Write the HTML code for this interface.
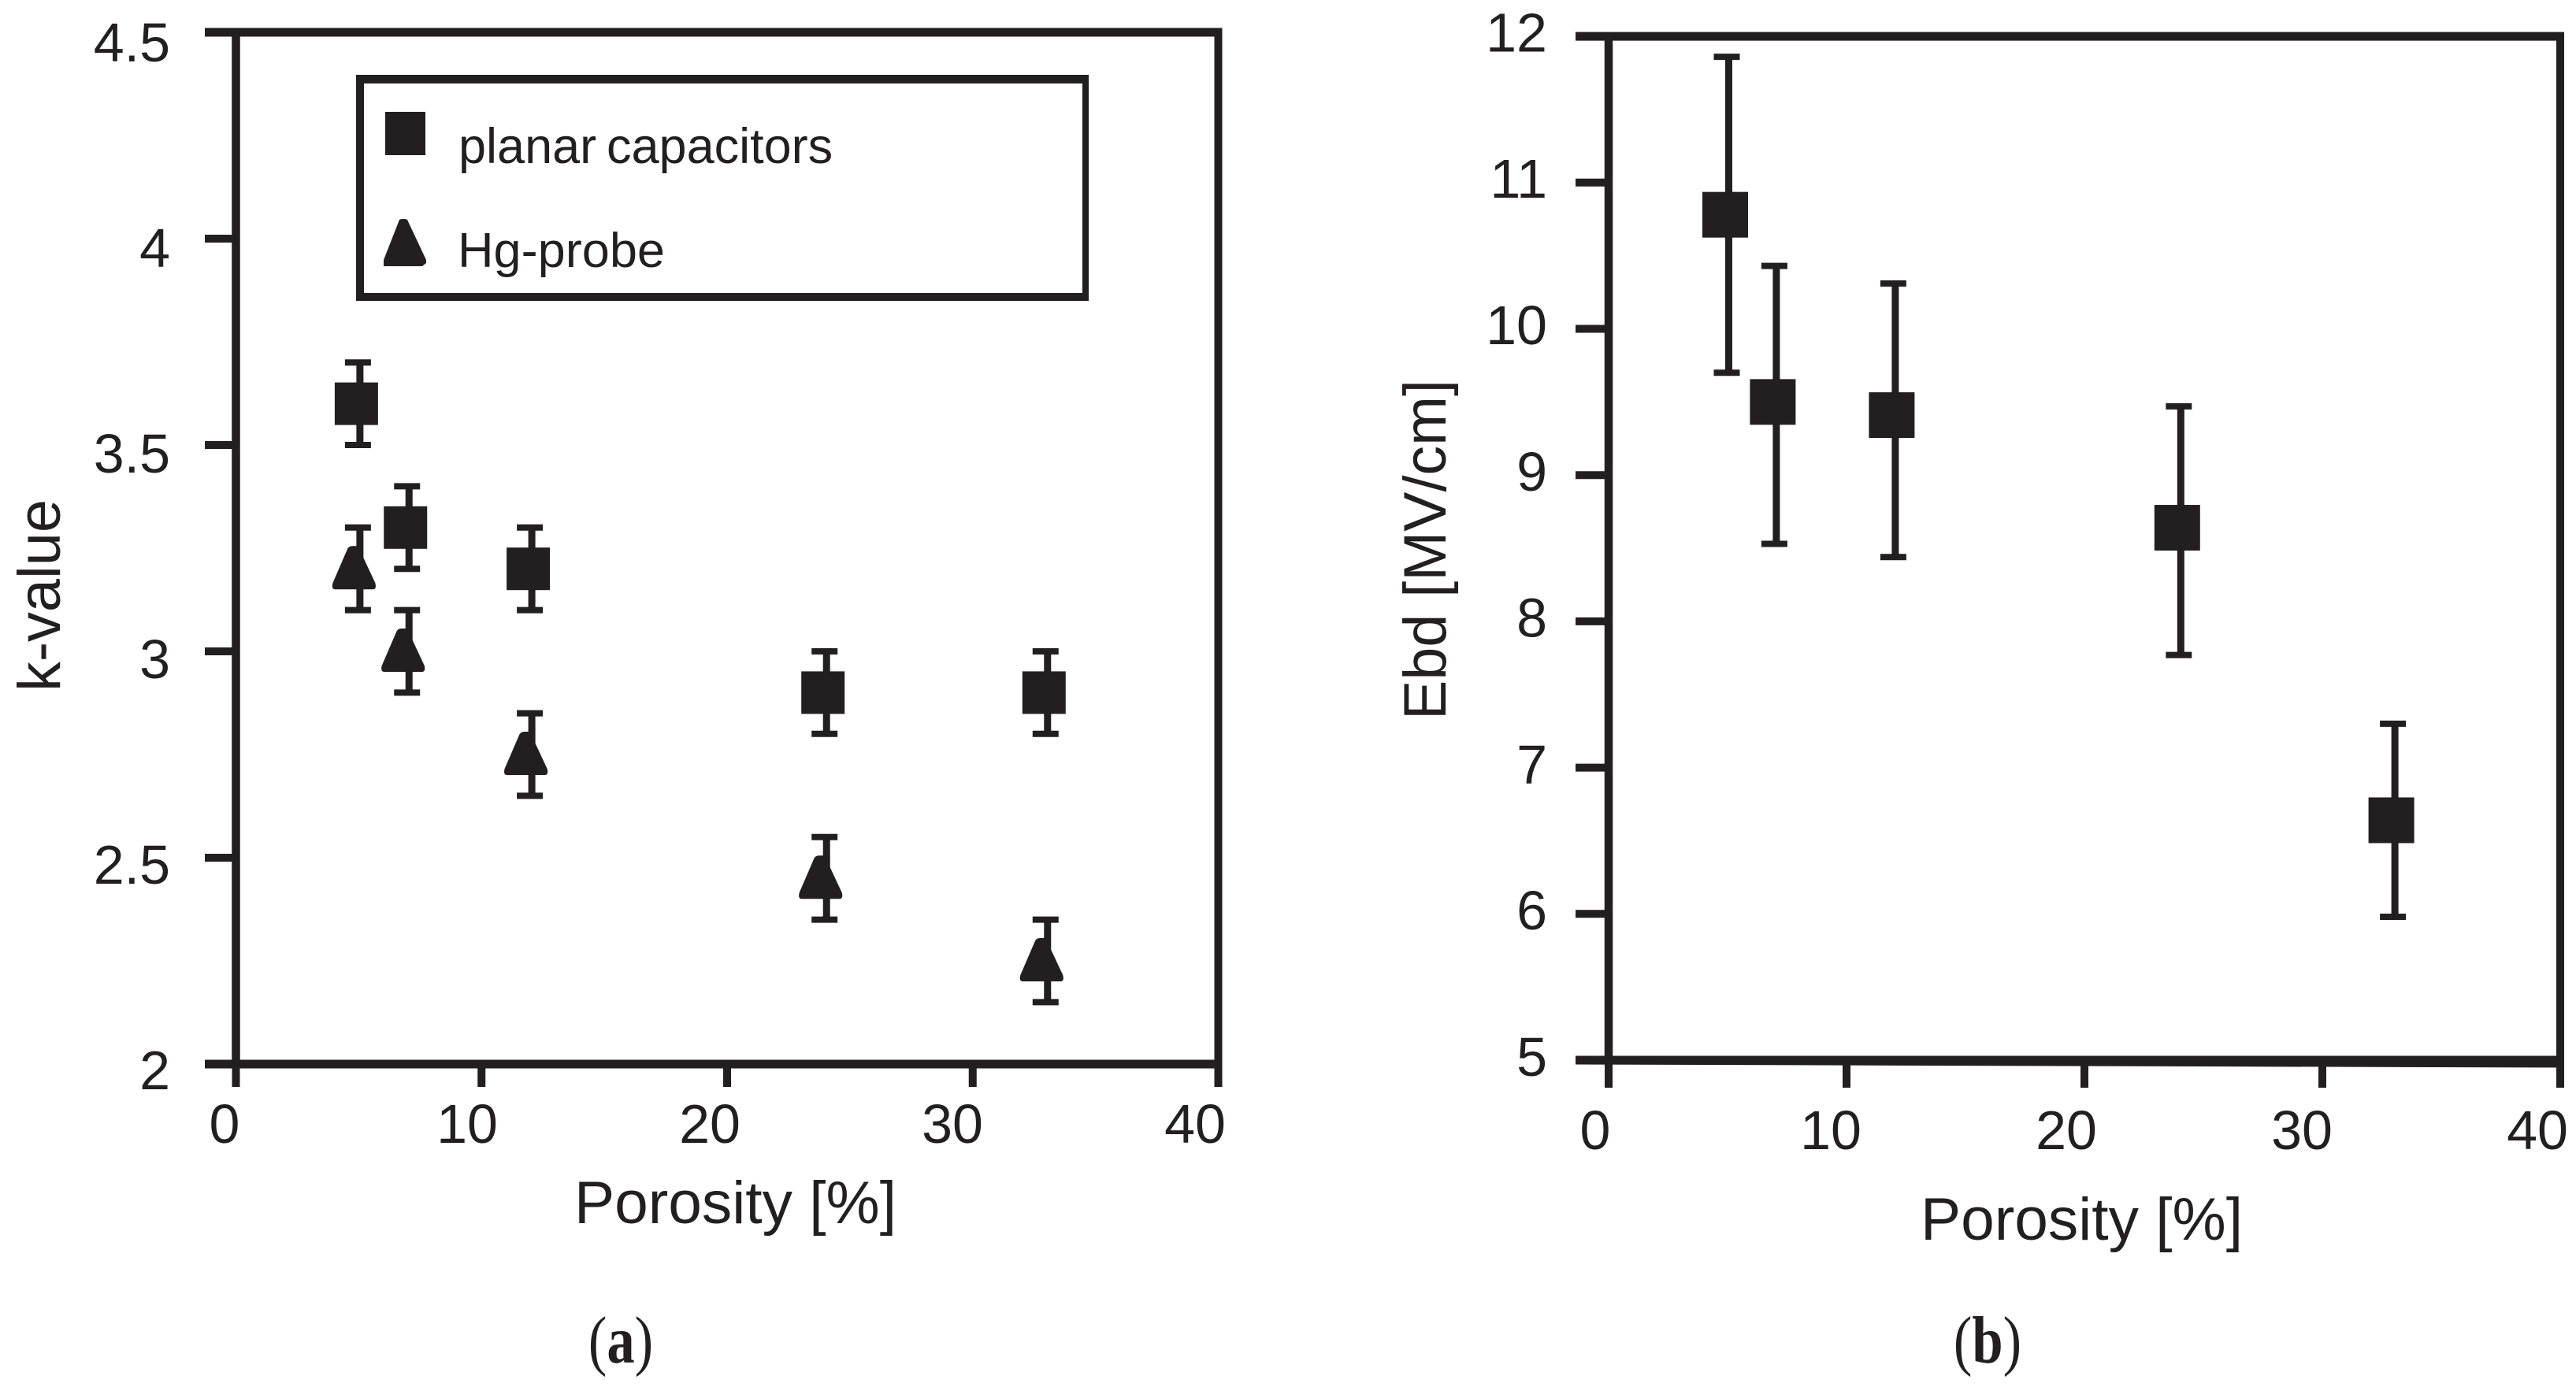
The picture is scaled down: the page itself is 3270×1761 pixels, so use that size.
<!DOCTYPE html>
<html lang="en">
<head>
<meta charset="utf-8">
<title>k-value and Ebd versus porosity</title>
<style>
html,body{margin:0;padding:0;background:#fff;}
body{width:3270px;height:1761px;overflow:hidden;}
svg{display:block;}
text{font-family:"Liberation Sans",Arial,sans-serif;fill:#231f20;}
.serif{font-family:"Liberation Serif","Times New Roman",serif;}
</style>
</head>
<body>
<svg id="figure" xmlns="http://www.w3.org/2000/svg" width="3270" height="1761" viewBox="0 0 3270 1761">
  <rect width="3270" height="1761" fill="#ffffff"/>
  <g id="panel-a"></g>
  <g id="panel-b"></g>

  <g>
    <line x1="452" y1="100.5" x2="1382" y2="100.5" stroke="#231f20" stroke-width="11"/>
    <line x1="452" y1="377" x2="1382" y2="377" stroke="#231f20" stroke-width="10"/>
    <line x1="457" y1="95" x2="457" y2="382" stroke="#231f20" stroke-width="10"/>
    <line x1="1378" y1="95" x2="1378" y2="382" stroke="#231f20" stroke-width="8"/>
    <rect x="489" y="142" width="51" height="55" fill="#231f20"/>
    <path d="M507 279 Q508 278 512 278 Q516 278 517 279 L541 330 L541 334 L536 338 L487 338 L487 330 Z" fill="#231f20"/>
    <text y="207" font-size="63"><tspan x="582">planar</tspan> <tspan x="770">capacitors</tspan></text>
    <text x="581" y="339" font-size="62" textLength="263" lengthAdjust="spacingAndGlyphs">Hg-probe</text>
  </g>

  <text class="serif" transform="translate(788 1730) scale(0.83 1)" font-size="85" text-anchor="middle">(<tspan font-weight="bold">a</tspan>)</text>
  <text class="serif" transform="translate(2523 1730) scale(0.83 1)" font-size="85" text-anchor="middle">(<tspan font-weight="bold">b</tspan>)</text>
</svg>

<script>
// Shared x-axis data
const porosity = [5, 7, 12, 24, 33];
const xTicks = [0, 10, 20, 30, 40];

// Panel (a) data
const kYTicks = [2, 2.5, 3, 3.5, 4, 4.5];
const kYTickLabels = ['2', '2.5', '3', '3.5', '4', '4.5'];
const planarK = [3.6, 3.3, 3.2, 2.9, 2.9];
const planarKErr = [0.1, 0.1, 0.1, 0.1, 0.1];
const hgK = [3.2, 3.0, 2.75, 2.45, 2.25];
const hgKErr = [0.1, 0.1, 0.1, 0.1, 0.1];

// Panel (b) data
const ebdYTicks = [5, 6, 7, 8, 9, 10, 11, 12];
const ebdYTickLabels = ['5', '6', '7', '8', '9', '10', '11', '12'];
const ebdValues = [10.78, 9.5, 9.41, 8.64, 6.64];
const ebdUpper = [11.86, 10.43, 10.31, 9.47, 7.3];
const ebdLower = [9.7, 8.53, 8.44, 7.77, 5.98];

const NS = 'http://www.w3.org/2000/svg';
const INK = '#231f20';

function make(parent, tag, attrs, txt) {
  const n = document.createElementNS(NS, tag);
  for (const k in attrs) n.setAttribute(k, attrs[k]);
  if (txt !== undefined) n.textContent = txt;
  parent.appendChild(n);
  return n;
}
function ln(parent, x1, y1, x2, y2, w) {
  return make(parent, 'line', {x1: x1, y1: y1, x2: x2, y2: y2, stroke: INK, 'stroke-width': w});
}

// Axis functions
const xA = v => 299.5 + 31.175 * v;
const yA = v => 1351 - (v - 2) * 524;
const xB = v => 2042 + 30.2 * v;
const yB = v => 1346 - (v - 5) * 185.7;

// Tick-label axis functions (the label grid sits slightly off the tick grid)
const xLabA = v => 285 + 30.8 * v;
const yLabA = v => 1383 - (v - 2) * 522;
const xLabB = v => 2025 + 29.9 * v;
const yLabB = v => 1366 - (v - 5) * 185.8;

function drawFrame(g, x, y, xt, yt, xMax, yMin, yMax, tickLeft, tickBottom, xLab, yLab, yLabels, yLabRight, xLabBase, rightDrop) {
  const frame = make(g, 'g', {});
  
  
  const top = ln(frame, tickLeft, y(yMax), x(xMax) + 5, y(yMax), 11);
  
  
  const y0 = y(yMin);
  const xEnd = x(xMax) + 5;
  const bottom = make(frame, 'polygon', {
    points: tickLeft + ',' + (y0 - 5.5) + ' ' + xEnd + ',' + (y0 - 5.5) + ' ' + xEnd + ',' + (y0 + 5.5 + rightDrop) + ' ' + tickLeft + ',' + (y0 + 5.5),
    fill: INK
  });
  
  
  const left = ln(frame, x(0), y(yMax), x(0), y(yMin), 10.5);
  
  
  const right = ln(frame, x(xMax), y(yMax), x(xMax), y(yMin), 10);
  
  

  xt.forEach(v => {
    const t = ln(frame, x(v), y(yMin), x(v), tickBottom, 10);
    
    
    const lbl = make(g, 'text', {
      x: xLab(v), y: xLabBase,
      'font-size': 70, 'text-anchor': 'middle'
    }, String(v));
    
    
  });
  yt.forEach((v, i) => {
    if (v !== yMin && v !== yMax) {
      const t = ln(frame, tickLeft, y(v), x(0), y(v), 10);
      
      
    }
    const lbl = make(g, 'text', {
      x: yLabRight, y: yLab(v),
      'font-size': 70, 'text-anchor': 'end'
    }, yLabels[i]);
    
    
  });
}

function errorBar(g, cx, yHi, yLo) {
  const eb = make(g, 'g', {});
  
  
  ln(eb, cx + 1.5, yHi, cx + 1.5, yLo, 9);
  ln(eb, cx - 17.5, yHi, cx + 15.5, yHi, 8);
  ln(eb, cx - 17.5, yLo, cx + 15.5, yLo, 8);
}
function squareMark(g, cx, cy, w, h) {
  const m = make(g, 'rect', {x: cx - 3 - w / 2, y: cy - h / 2, width: w, height: h, fill: INK});
  
  
}
function triangleMark(g, cx, cy) {
  const c = cx - 6;
  const d = 'M' + (c - 8) + ' ' + (cy - 26) + ' Q' + (c - 6) + ' ' + (cy - 29) + ' ' + (c - 2) + ' ' + (cy - 29) +
            ' L' + (c + 5) + ' ' + (cy - 29) +
            ' L' + (c + 27) + ' ' + (cy + 18) + ' Q' + (c + 29) + ' ' + (cy + 26) + ' ' + (c + 24) + ' ' + (cy + 26) +
            ' L' + (c - 24) + ' ' + (cy + 26) + ' Q' + (c - 29) + ' ' + (cy + 26) + ' ' + (c - 27) + ' ' + (cy + 18) + ' Z';
  const m = make(g, 'path', {d: d, fill: INK});
  
  
}

// Panel (a)
const gA = document.getElementById('panel-a');
drawFrame(gA, xA, yA, xTicks, kYTicks, 40, 2, 4.5, 260, 1380, xLabA, yLabA, kYTickLabels, 216, 1451, 0);
const seriesPlanar = make(gA, 'g', {});


porosity.forEach((p, i) => {
  errorBar(seriesPlanar, xA(p), yA(planarK[i] + planarKErr[i]), yA(planarK[i] - planarKErr[i]));
  squareMark(seriesPlanar, xA(p), yA(planarK[i]), 55, 54);
});
const seriesHg = make(gA, 'g', {});


porosity.forEach((p, i) => {
  errorBar(seriesHg, xA(p), yA(hgK[i] + hgKErr[i]), yA(hgK[i] - hgKErr[i]));
  triangleMark(seriesHg, xA(p), yA(hgK[i]));
});
const titleXA = make(gA, 'text', {x: 729, y: 1553, 'font-size': 76, textLength: 409, lengthAdjust: 'spacingAndGlyphs'}, 'Porosity [%]');


const titleYA = make(gA, 'text', {transform: 'translate(76 878) rotate(-90)', 'font-size': 76, textLength: 244, lengthAdjust: 'spacingAndGlyphs'}, 'k-value');



// Panel (b)
const gB = document.getElementById('panel-b');
drawFrame(gB, xB, yB, xTicks, ebdYTicks, 40, 5, 12, 2000, 1381, xLabB, yLabB, ebdYTickLabels, 1964, 1459, 4);
const seriesEbd = make(gB, 'g', {});


porosity.forEach((p, i) => {
  errorBar(seriesEbd, xB(p), yB(ebdUpper[i]), yB(ebdLower[i]));
  squareMark(seriesEbd, xB(p), yB(ebdValues[i]), 58, 58);
});
const titleXB = make(gB, 'text', {x: 2438, y: 1574, 'font-size': 76, textLength: 409, lengthAdjust: 'spacingAndGlyphs'}, 'Porosity [%]');


const titleYB = make(gB, 'text', {transform: 'translate(1835 914) rotate(-90)', 'font-size': 76, textLength: 432, lengthAdjust: 'spacingAndGlyphs'}, 'Ebd [MV/cm]');


</script>
</body>
</html>
